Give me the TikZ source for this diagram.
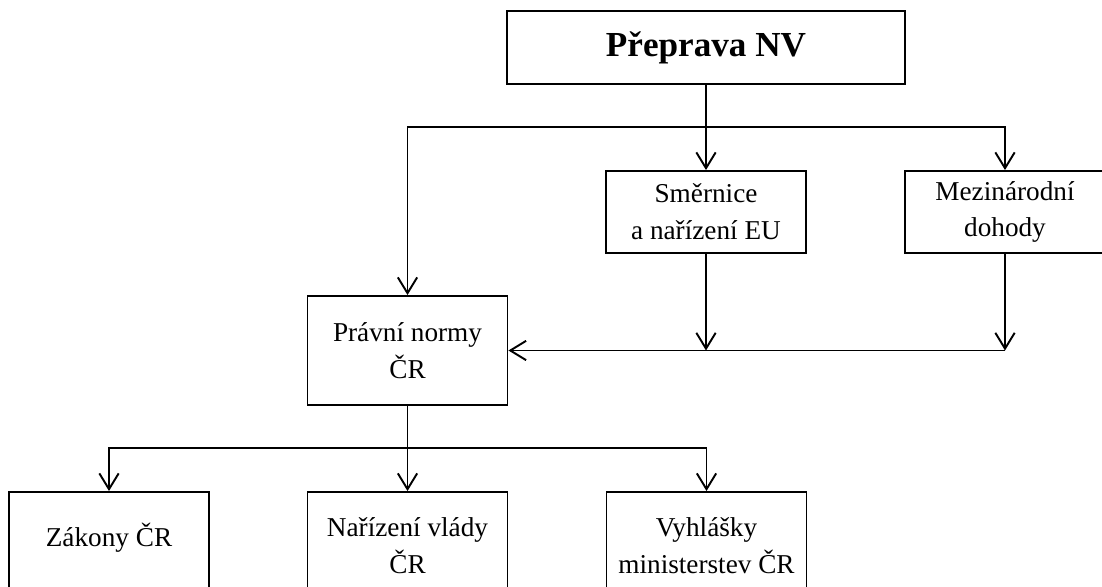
\documentclass[tikz,border=0pt]{standalone}
\usepackage{fontspec}
\setmainfont{Liberation Serif}
\usetikzlibrary{arrows.meta}

\begin{document}
\begin{tikzpicture}[x=0.02cm, y=-0.02cm, >={Straight Barb[length=9pt, width=11pt]}, line width=1.1pt,
		every node/.style={font=\fontsize{15.5}{21}\selectfont},
		box/.style={draw, align=center, minimum width=4cm, inner sep=0pt}]
				% 1. 画布
				\clip (0, 0) rectangle (1102, 587);
				
				% 2. 方框
				\node[box, minimum width=7.96cm, minimum height=1.46cm, font=\fontsize{20}{24}\selectfont\bfseries] (prep) at (706, 47.5) {Přeprava NV};
				\node[box, minimum height=1.64cm] (smer) at (706, 212) {Směrnice\\a nařízení EU};
				\node[box, minimum height=1.64cm] (mezi) at (1005, 212) {Mezinárodní\\dohody};
				\node[box, minimum height=2.18cm] (pravni) at (407.5, 350.5) {Právní normy\\ČR};
				\node[box, minimum height=2.16cm] (zakony) at (109, 546) {Zákony ČR\\[-15pt]\strut};
				\node[box, minimum height=2.16cm] (narizeni) at (407.5, 546) {Nařízení vlády\\ČR};
				\node[box, minimum height=2.16cm] (vyhlasky) at (706.5, 546) {Vyhlášky\\ministerstev ČR};
				
				% 3. 分支点
				\coordinate (split) at (706, 127);
				\coordinate (eujoin) at (smer |- pravni.east);
				\coordinate (mdjoin) at (mezi |- pravni.east);
				\coordinate (split2) at (407.5, 448);
				
				% 4. 连线
				\draw (prep) -- (split);
				\draw[->] (split) -| (pravni);
				\draw[->] (split) -- (smer);
				\draw[->] (split) -| (mezi);
				\draw[->] (smer) -- (eujoin);
				\draw[->] (mezi) -- (mdjoin);
				\draw[->] (mdjoin) -- (pravni);
				\draw (pravni) -- (split2);
				\draw[->] (split2) -| (zakony);
				\draw[->] (split2) -- (narizeni);
				\draw[->] (split2) -| (vyhlasky);
			\end{tikzpicture}
\end{document}
